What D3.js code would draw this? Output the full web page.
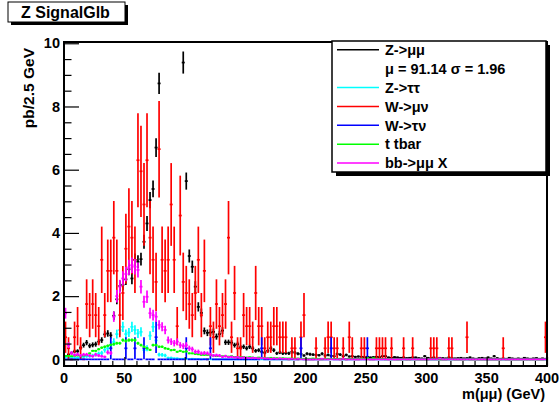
<!DOCTYPE html>
<html><head><meta charset="utf-8">
<script src="https://cdn.jsdelivr.net/npm/d3@7"></script>
<style>body{margin:0;background:#fff}svg{display:block}text{font-family:"Liberation Sans",Arial,Helvetica,sans-serif;font-weight:bold}</style>
</head><body>
<script>
// ---- data (pb / 2.5 GeV bins, 0..400 GeV -> 160 bins) ----
const binWidth = 2.5;
const xTicks = [0, 50, 100, 150, 200, 250, 300, 350, 400];
const yTicks = [0, 2, 4, 6, 8, 10];
const seriesNames = ["Z->μμ", "Z->ττ", "W->μν", "W->τν", "t tbar", "bb->μμ X"];
const seriesColors = ["#000000", "#00ffff", "#ff0000", "#0000ff", "#00ff00", "#ff00ff"];
const fitLabel = "μ = 91.14 σ = 1.96";
// per-event weight used for the Poisson error bars of each sample
const eventWeight = [0.013, 0.025, 0.35, 0.35, 0.004, 0.02];

const zmumu = [
0.10,0.15,0.20,0.25,0.26,0.37,0.45,0.53,0.43,0.46,
0.48,0.56,0.61,0.79,0.82,0.76,1.38,1.90,2.32,2.36,
2.53,2.85,2.56,3.15,3.09,3.17,3.72,4.30,5.04,5.39,
6.70,8.73,null,null,null,null,null,null,null,9.39,
5.64,3.27,2.93,2.30,1.66,1.47,0.90,0.84,0.85,0.87,
0.72,0.80,0.91,0.54,0.54,0.53,0.45,0.48,0.38,0.40,
0.35,0.40,0.35,0.27,0.29,0.24,0.21,0.27,0.35,0.29,
0.19,0.22,0.19,0.20,0.19,0.24,0.21,0.18,0.17,0.12,
0.18,0.16,0.15,0.14,0.13,0.18,0.12,0.14,0.11,0.10,
0.17,0.15,0.10,0.14,0.09,0.10,0.08,0.09,0.08,0.07,
0.08,0.06,0.07,0.08,0.07,0.10,0.10,0.06,0.05,0.07,
0.06,0.05,0.06,0.04,0.05,0.06,0.06,0.04,0.03,0.10,
0.05,0.04,0.06,0.03,0.05,0.04,0.03,0.06,0.04,0.03,
0.04,0.05,0.03,0.04,0.06,0.03,0.02,0.04,0.05,0.03,
0.06,0.03,0.10,0.04,0.02,0.03,0.02,0.05,0.03,0.02,
0.03,0.02,0.05,0.03,0.02,0.03,0.04,0.02,0.03,0.02];

const ztautau = [
0.08,0.05,0.05,0.04,0.05,0.06,0.08,0.10,0.10,0.12,
0.15,0.18,0.20,0.30,0.35,0.45,0.55,0.80,0.93,1.03,
0.80,0.85,1.03,0.93,0.82,0.87,0.29,0.35,0.75,1.03,
0.60,0.15,0.14,0.12,0.05,0.05,0.03,0.03,0.02,0.02,
0.02,0.01,0.02,0.01,0.01,0,0.01,0,0,0,
0,0,0,0,0,0,0,0,0,0, 0,0,0,0,0,0,0,0,0,0,
0,0,0,0,0,0,0,0,0,0, 0,0,0,0,0,0,0,0,0,0,
0,0,0,0,0,0,0,0,0,0, 0,0,0,0,0,0,0,0,0,0,
0,0,0,0,0,0,0,0,0,0, 0,0,0,0,0,0,0,0,0,0,
0,0,0,0,0,0,0,0,0,0, 0,0,0,0,0,0,0,0,0,0,
0,0,0,0,0,0,0,0,0,0];

const wmunu = [
0.70,0.35,0,0.70,1.05,0.35,0,1.75,1.40,1.75,
1.40,1.05,3.15,1.40,2.80,2.80,3.85,2.80,1.40,2.10,
3.50,4.20,3.85,3.15,6.30,5.95,4.90,6.30,3.85,3.15,
2.45,6.65,3.15,2.80,3.15,4.90,3.15,1.05,4.55,2.45,
2.10,1.75,1.40,2.10,3.15,1.40,2.80,0,1.05,0.70,
1.75,1.05,1.40,1.75,3.85,0.70,2.10,0.35,0.35,1.40,
1.05,1.05,0.70,2.10,1.05,1.05,0.35,0.70,0.70,1.05,
1.05,0.70,0.70,0.70,0,0.35,0.35,0,0.70,1.40,
0,0,0,0.35,0,0,0.35,0.70,0.70,0.35,
0.35,0,0.35,0,0.70,0.35,0,0,0.35,0.35,
0,0,0,0.35,0.35,0.35,0.35,0,0.35,0,
0,0,0.35,0,0,0.35,0,0,0,0,
0,0.35,0.35,0.35,0,0,0,0.35,0.35,0,
0,0,0,0.70,0,0,0,0,0,0,
0,0,0,0,0,0.35,0,0,0,0,
0,0,0,0,0,0,0,0,0,0.70];

const wtaunu = [
0,0,0,0,0,0,0,0,0,0, 0,0,0,0,0,0.35,0,0,0,0,
0.35,0,0,0.35,0,0,0.35,0,0,0, 0.70,0,0,0,0,0,0,0,0,0,
0.35,0,0,0,0,0,0,0,0.35,0, 0,0,0,0,0,0,0,0,0,0,
0,0,0,0,0,0.35,0,0,0,0, 0,0,0,0,0,0,0,0,0.35,0,
0,0,0,0,0,0,0,0,0.35,0, 0,0,0,0,0,0,0,0,0,0,
0.35,0,0,0,0,0,0,0,0,0, 0,0,0,0,0,0,0,0,0,0,
0,0,0,0,0,0,0,0,0,0, 0,0,0,0,0,0,0,0,0,0,
0,0,0,0,0,0,0,0,0,0, 0,0,0,0,0,0,0,0,0,0];

const ttbar = [
0.11,0.11,0.10,0.11,0.12,0.11,0.12,0.14,0.19,0.27,
0.27,0.32,0.37,0.40,0.43,0.46,0.48,0.51,0.51,0.61,
0.58,0.61,0.61,0.61,0.51,0.45,0.40,0.35,0.30,0.45,
0.45,0.40,0.40,0.35,0.33,0.29,0.30,0.24,0.27,0.24,
0.25,0.19,0.19,0.17,0.16,0.14,0.14,0.14,0.13,0.12,
0.10,0.11,0.10,0.10,0.09,0.10,0.08,0.08,0.07,0.08,
0.06,0.07,0.06,0.05,0.06,0.05,0.05,0.04,0.05,0.04,
0.04,0.03,0.04,0.03,0.03,0.03,0.02,0.03,0.02,0.02,
0.02,0.02,0.03,0.02,0.02,0.01,0.02,0.02,0.01,0.02,
0.01,0.02,0.01,0.01,0.02,0.01,0.01,0.01,0.02,0.01,
0.04,0.01,0.04,0.01,0.01,0.01,0,0.01,0,0.01,
0,0,0,0,0,0,0,0,0,0, 0,0,0,0,0,0,0,0,0,0,
0,0,0,0,0,0,0,0,0,0, 0,0,0,0,0,0,0,0,0,0,
0,0,0,0,0,0,0,0,0,0];

const bbmumu = [
1.46,0.45,0.20,0.14,0.16,0.12,0.15,0.15,0.12,0.10,
0.15,0.12,0.10,0.08,0.22,0.20,1.35,2.00,2.30,2.56,
2.70,2.91,2.98,2.93,2.83,2.30,1.82,1.98,1.46,1.40,
1.35,1.09,1.03,0.93,0.61,0.56,0.51,0.56,0.45,0.42,
0.45,0.35,0.32,0.24,0.24,0.19,0.20,0.19,0.15,0.12,
0.13,0.12,0.08,0.10,0.07,0.08,0.06,0.07,0.05,0.06,
0.05,0.04,0.05,0.04,0.03,0.04,0.03,0.03,0.02,0.03,
0.02,0.03,0.02,0.02,0.01,0.02,0,0.02,0,0,
0,0,0,0,0,0.02,0,0,0,0, 0,0,0.02,0,0,0,0,0,0,0,
0,0,0,0,0,0,0,0,0,0, 0,0,0,0,0,0,0,0,0,0,
0,0,0,0,0.03,0,0,0,0,0, 0,0,0,0,0,0,0,0,0,0,
0,0,0,0,0,0,0,0,0,0, 0,0,0,0,0,0,0,0,0,0];

const seriesValues = [zmumu, ztautau, wmunu, wtaunu, ttbar, bbmumu];

// ---- layout ----
const W = 559, H = 403;
const svg = d3.select("body").append("svg").attr("width", W).attr("height", H);
svg.append("rect").attr("width", W).attr("height", H).attr("fill", "#fff");

const fx0 = 64, fx1 = 547, fy0 = 42, fy1 = 366;
const x = d3.scaleLinear().domain([0, 400]).range([fx0, fx1]);
const y = d3.scaleLinear().domain([-0.21, 10.04]).range([fy1, fy0]);

svg.append("clipPath").attr("id", "clip").append("rect")
  .attr("x", fx0).attr("y", fy0).attr("width", fx1 - fx0).attr("height", fy1 - fy0);

const plot = svg.append("g").attr("clip-path", "url(#clip)");
seriesValues.forEach((vals, s) => {
  const g = plot.append("g").attr("stroke", seriesColors[s]).attr("stroke-width", 1.7).attr("fill", "none");
  vals.forEach((v, i) => {
    if (v === null || v === undefined) return;
    if (v > 10.04) return;
    const xa = x(i * binWidth), xb = x((i + 1) * binWidth), xc = (xa + xb) / 2;
    g.append("line").attr("x1", xa).attr("x2", xb).attr("y1", y(v)).attr("y2", y(v));
    const e = Math.sqrt(v * eventWeight[s]);
    if (e > 0) g.append("line").attr("x1", xc).attr("x2", xc).attr("y1", y(v - e)).attr("y2", y(v + e));
  });
});

// frame
svg.append("rect").attr("x", fx0).attr("y", fy0).attr("width", fx1 - fx0).attr("height", fy1 - fy0)
  .attr("fill", "none").attr("stroke", "#000").attr("stroke-width", 2);

// x axis
const xAxis = d3.axisBottom(x).tickValues(d3.range(0, 401, 10)).tickSize(0).tickFormat("");
const xg = svg.append("g").attr("transform", `translate(0,${fy1})`).call(xAxis);
xg.select(".domain").remove();
xg.selectAll(".tick line").attr("y2", d => (d % 50 === 0 ? -9 : -5)).attr("stroke", "#000").attr("stroke-width", 1.2);
xTicks.forEach(t => {
  svg.append("text").attr("x", x(t)).attr("y", 382.5).attr("text-anchor", "middle")
    .attr("font-size", 14.5).text(t);
});
svg.append("text").attr("x", 545).attr("y", 398.5).attr("text-anchor", "end").attr("font-size", 14.5).text("m(μμ) (GeV)");

// y axis
const yAxis = d3.axisLeft(y).tickValues(d3.range(0, 10.01, 0.5)).tickSize(0).tickFormat("");
const yg = svg.append("g").attr("transform", `translate(${fx0},0)`).call(yAxis);
yg.select(".domain").remove();
yg.selectAll(".tick line").attr("x2", d => (Math.abs(d % 2) < 1e-6 ? 15 : 7.5)).attr("stroke", "#000").attr("stroke-width", 1.2);
yTicks.forEach(t => {
  svg.append("text").attr("x", 60).attr("y", y(t)).attr("dy", "0.36em").attr("text-anchor", "end")
    .attr("font-size", 14.5).text(t);
});
svg.append("text").attr("transform", "translate(34,48) rotate(-90)").attr("text-anchor", "end")
  .attr("font-size", 15.5).text("pb/2.5 GeV");

// title box
svg.append("rect").attr("x", 11).attr("y", 5).attr("width", 117).attr("height", 20).attr("fill", "#000");
svg.append("rect").attr("x", 8).attr("y", 2).attr("width", 117).attr("height", 20).attr("fill", "#fff").attr("stroke", "#000").attr("stroke-width", 1);
svg.append("text").attr("x", 21).attr("y", 18).attr("font-size", 16).text("Z SignalGlb");

// legend
const lx = 332, ly = 41, lw = 214, lh = 131;
svg.append("rect").attr("x", lx + 4).attr("y", ly + 4).attr("width", lw).attr("height", lh).attr("fill", "#000");
svg.append("rect").attr("x", lx).attr("y", ly).attr("width", lw).attr("height", lh).attr("fill", "#fff").attr("stroke", "#000").attr("stroke-width", 1.5);
const rows = [
  {label: seriesNames[0], color: seriesColors[0]},
  {label: fitLabel, color: null},
  {label: seriesNames[1], color: seriesColors[1]},
  {label: seriesNames[2], color: seriesColors[2]},
  {label: seriesNames[3], color: seriesColors[3]},
  {label: seriesNames[4], color: seriesColors[4]},
  {label: seriesNames[5], color: seriesColors[5]}
];
rows.forEach((r, k) => {
  const cy = 49.7 + k * 18.9;
  if (r.color) svg.append("line").attr("x1", 337).attr("x2", 379).attr("y1", cy).attr("y2", cy)
    .attr("stroke", r.color).attr("stroke-width", 1.5);
  svg.append("text").attr("x", 385).attr("y", cy).attr("dy", "0.36em").attr("font-size", 14.5).text(r.label);
});
</script>
</body></html>
